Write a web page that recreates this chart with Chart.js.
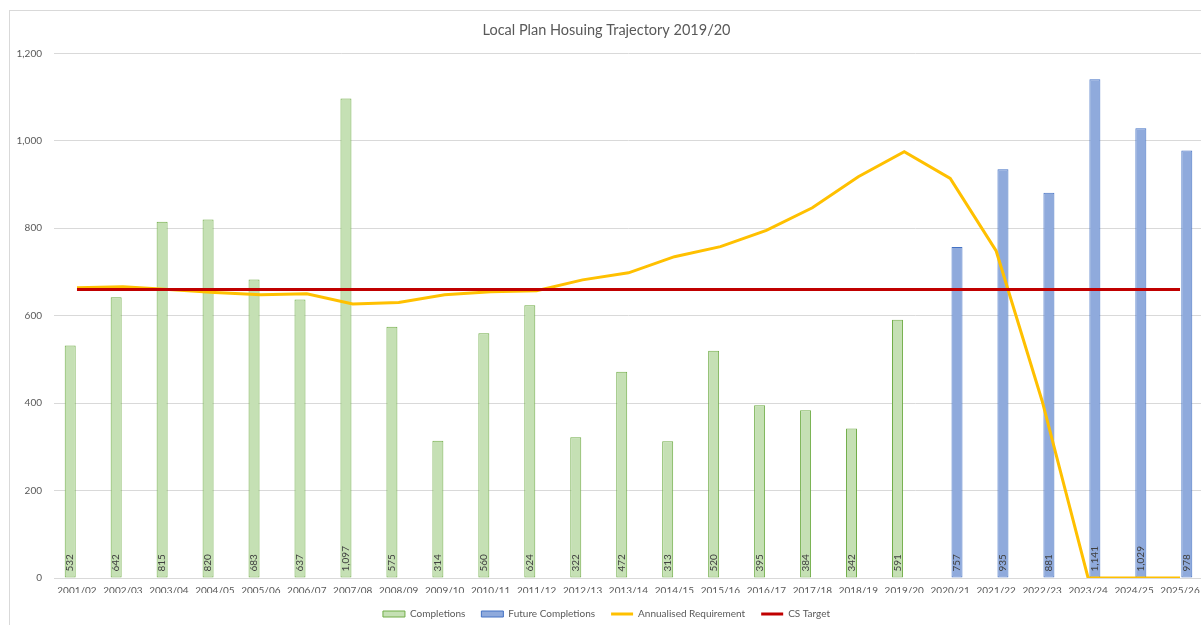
<!DOCTYPE html>
<html>
<head>
<meta charset="utf-8">
<script src="https://cdn.jsdelivr.net/npm/chart.js@4"></script>
<style>
    html, body { margin: 0; padding: 0; background: #fff; overflow: hidden; }
    #wrap { position: absolute; left: 0; top: 0; width: 1215px; height: 629px; }
</style>
</head>
<body>
<div id="wrap"><canvas id="trajectoryChart"></canvas></div>
<script>
// ==================== DATA ====================
const years = ['2001/02', '2002/03', '2003/04', '2004/05', '2005/06', '2006/07', '2007/08', '2008/09',
    '2009/10', '2010/11', '2011/12', '2012/13', '2013/14', '2014/15', '2015/16', '2016/17', '2017/18',
    '2018/19', '2019/20', '2020/21', '2021/22', '2022/23', '2023/24', '2024/25', '2025/26'];

const completions = [532, 642, 815, 820, 683, 637, 1097, 575, 314, 560, 624, 322, 472, 313, 520, 395, 384,
    342, 591, null, null, null, null, null, null];

const futureCompletions = [null, null, null, null, null, null, null, null, null, null, null, null, null,
    null, null, null, null, null, null, 757, 935, 881, 1141, 1029, 978];

const annualisedRequirement = [664, 666, 660, 653, 648, 650, 627, 630, 648, 655, 657, 682, 698, 735, 758,
    795, 847, 918, 975, 914, 748, 405, 0, 0, 0];

const csTarget = [660, 660, 660, 660, 660, 660, 660, 660, 660, 660, 660, 660, 660, 660, 660, 660, 660,
    660, 660, 660, 660, 660, 660, 660, 660];

const FONT = 'Lato, "Open Sans", sans-serif';
const TEXT = '#595959';

// rotated value labels sitting at the base of each bar
const barLabels = {
    id: 'barLabels',
    afterDatasetsDraw(chart) {
        const ctx = chart.ctx;
        [0, 1].forEach(di => {
            const meta = chart.getDatasetMeta(di);
            const values = chart.data.datasets[di].data;
            meta.data.forEach((bar, i) => {
                if (values[i] == null) return;
                ctx.save();
                ctx.translate(bar.x, bar.base - 6);
                ctx.rotate(-Math.PI / 2);
                ctx.font = '10px ' + FONT;
                ctx.fillStyle = '#404040';
                ctx.textAlign = 'left';
                ctx.textBaseline = 'middle';
                ctx.fillText(values[i].toLocaleString('en-US'), 0, 0);
                ctx.restore();
            });
        });
    }
};

// light frame round the chart, like the spreadsheet chart object
const chartFrame = {
    id: 'chartFrame',
    beforeDraw(chart) {
        const ctx = chart.ctx;
        ctx.save();
        ctx.strokeStyle = '#D9D9D9';
        ctx.lineWidth = 1;
        ctx.strokeRect(9.5, 10.5, 3000, 3000);
        ctx.restore();
    }
};

new Chart(document.getElementById('trajectoryChart'), {
    type: 'bar',
    data: {
        labels: years,
        datasets: [
            {
                label: 'Completions',
                data: completions,
                backgroundColor: '#C5E0B4',
                borderColor: '#70AD47',
                borderWidth: 1,
                borderSkipped: false,
                pointStyle: 'rect',
                order: 2
            },
            {
                label: 'Future Completions',
                data: futureCompletions,
                backgroundColor: '#8FAADC',
                borderColor: '#4472C4',
                borderWidth: 1,
                borderSkipped: false,
                pointStyle: 'rect',
                order: 2
            },
            {
                type: 'line',
                label: 'Annualised Requirement',
                data: annualisedRequirement,
                borderColor: '#FFC000',
                backgroundColor: '#FFC000',
                borderWidth: 3,
                pointRadius: 0,
                tension: 0,
                pointStyle: 'line',
                order: 1
            },
            {
                type: 'line',
                label: 'CS Target',
                data: csTarget,
                borderColor: '#C00000',
                backgroundColor: '#C00000',
                borderWidth: 3,
                pointRadius: 0,
                pointStyle: 'line',
                order: 0
            }
        ]
    },
    options: {
        responsive: true,
        maintainAspectRatio: false,
        animation: false,
        devicePixelRatio: 1,
        categoryPercentage: 0.59,
        barPercentage: 0.81,
        layout: { padding: { left: 10, right: 12, top: 18, bottom: 0 } },
        plugins: {
            title: {
                display: true,
                text: 'Local Plan Hosuing Trajectory 2019/20',
                color: TEXT,
                font: { family: FONT, size: 14.5, weight: 'normal' },
                padding: { top: 4, bottom: 14 }
            },
            legend: {
                position: 'bottom',
                labels: {
                    usePointStyle: true,
                    pointStyleWidth: 22,
                    boxHeight: 6,
                    color: TEXT,
                    font: { family: FONT, size: 10 },
                    padding: 16,
                    sort: (a, b) => a.datasetIndex - b.datasetIndex
                }
            },
            tooltip: { enabled: false }
        },
        scales: {
            x: {
                afterFit: s => { s.height = 15; },
                grid: { display: false, drawTicks: false },
                border: { color: '#D9D9D9' },
                ticks: {
                    color: TEXT,
                    font: { family: FONT, size: 10 },
                    maxRotation: 0,
                    autoSkip: false,
                    padding: 7
                }
            },
            y: {
                min: 0,
                max: 1200,
                afterFit: s => { s.width = 44; },
                border: { display: false },
                grid: { color: '#D9D9D9', drawTicks: false },
                ticks: {
                    stepSize: 200,
                    color: TEXT,
                    font: { family: FONT, size: 10 },
                    padding: 12,
                    callback: v => v.toLocaleString('en-US')
                }
            }
        }
    },
    plugins: [barLabels, chartFrame]
});
</script>
</body>
</html>
